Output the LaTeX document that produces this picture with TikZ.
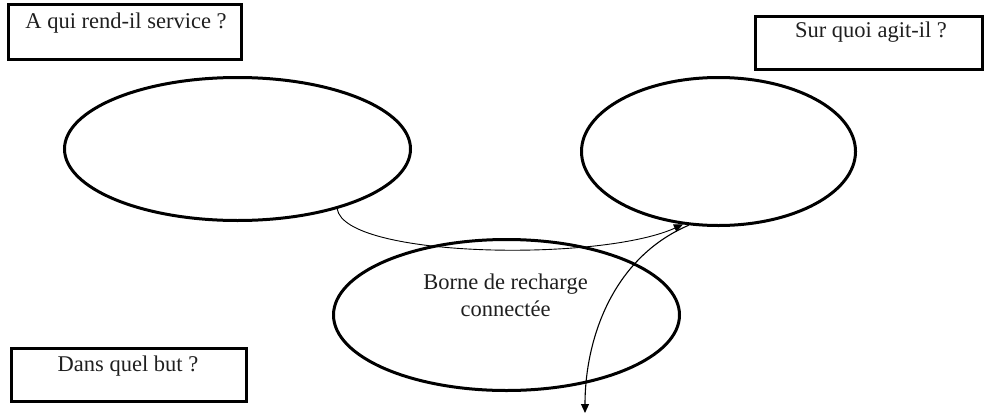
\documentclass[tikz,border=0pt]{standalone}
\usepackage{fontspec}
\setmainfont{Liberation Serif}
\usetikzlibrary{shapes.geometric,arrows.meta}
\begin{document}
\begin{tikzpicture}[x=1pt,y=-1pt,
  qbox/.style={draw, line width=3pt, rectangle, inner sep=0pt},
  bubble/.style={draw, line width=3pt, ellipse, inner sep=0pt},
  lbl/.style={inner sep=0pt, font=\fontsize{22.5}{27}\selectfont, text=black!88},
  conn/.style={line width=1.1pt, -{Triangle[length=9pt,width=8pt]}}
]
\useasboundingbox (0,0) rectangle (984,415);
% boxes
\node[qbox, minimum width=233pt, minimum height=55pt] (b1) at (125,32) {};
\node[qbox, minimum width=227pt, minimum height=53pt] (b2) at (869,43) {};
\node[qbox, minimum width=235pt, minimum height=53pt] (b3) at (129,375) {};
\node[lbl, anchor=base] (t1) at (126,28) {A qui rend-il service ?};
\node[lbl, anchor=base] (t2) at (871,37) {Sur quoi agit-il ?};
\node[lbl, anchor=base] (t3) at (128,371) {Dans quel but ?};
% ellipses
\node[bubble, minimum width=346pt, minimum height=143pt] (le) at (237.5,149) {};
\node[bubble, minimum width=274pt, minimum height=148pt] (re) at (718.5,151.5) {};
\node[bubble, minimum width=346pt, minimum height=151pt] (ce) at (506.5,315) {};
\node[lbl, align=center] (tc) at (505.5,295) {Borne de recharge\\connectée};
% connectors
\coordinate (endpt) at (585,413);
\draw[conn, line width=0.9pt] (le.-31) .. controls (345,258) and (600,262) .. (re.-116);
\draw[conn] (re.-112) .. controls (612,258) and (585,340) .. (endpt);
\end{tikzpicture}
\end{document}
